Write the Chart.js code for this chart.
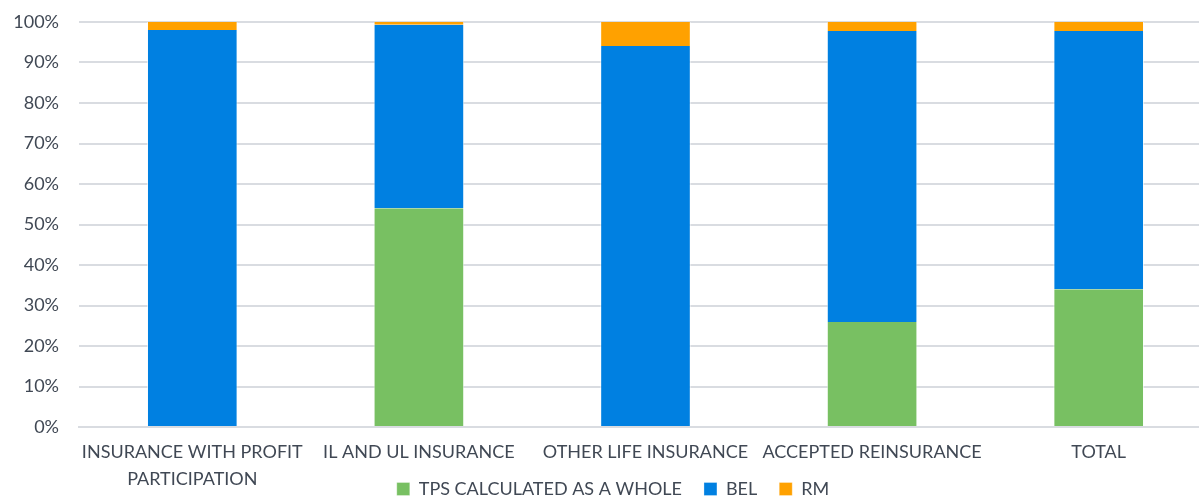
<!DOCTYPE html>
<html>
<head>
<meta charset="utf-8">
<script src="https://cdn.jsdelivr.net/npm/chart.js@4"></script>
<style>
  html, body { margin: 0; padding: 0; background: #fff; overflow: hidden; }
  #wrap { width: 1212px; height: 496px; }
</style>
</head>
<body>
<div id="wrap"><canvas id="tps_graph" width="1212" height="496"></canvas></div>
<script>
const categories = [
    ['INSURANCE WITH PROFIT', 'PARTICIPATION'],
    'IL AND UL INSURANCE',
    'OTHER LIFE INSURANCE',
    'ACCEPTED REINSURANCE',
    'TOTAL'
]
const tpsWhole = [0, 54, 0, 25.9, 34]
const bel = [98, 45.3, 94.1, 71.9, 63.8]
const rm = [2, 0.7, 5.9, 2.2, 2.2]
const yTicks = [0, 10, 20, 30, 40, 50, 60, 70, 80, 90, 100]

const textColor = '#404854'
const fontFamily = 'Lato, "Liberation Sans", sans-serif'

function series(label, values, color) {
    return {
        label: label,
        data: values,
        backgroundColor: color,
        borderColor: 'rgba(255,255,255,0.6)',
        borderWidth: { left: 1, right: 1, top: 0, bottom: 0 },
        barPercentage: 0.4,
        categoryPercentage: 1.0
    }
}

const data = {
    labels: categories,
    datasets: [
        series('TPS CALCULATED AS A WHOLE', tpsWhole, '#78C062'),
        series('BEL', bel, '#0080E1'),
        series('RM', rm, '#FFA100')
    ]
}

const config = {
    type: 'bar',
    data: data,
    options: {
        responsive: false,
        animation: false,
        layout: { padding: { top: 22, left: 14, right: 0, bottom: -12 } },
        plugins: {
            tooltip: { enabled: false },
            legend: {
                position: 'bottom',
                labels: {
                    color: textColor,
                    font: { family: fontFamily, size: 18 },
                    boxWidth: 13,
                    boxHeight: 13,
                    padding: 22
                }
            }
        },
        scales: {
            x: {
                stacked: true,
                grid: { display: false },
                border: { color: '#d9dce1', width: 2 },
                ticks: {
                    color: textColor,
                    font: { family: fontFamily, size: 18, lineHeight: 1.5 },
                    padding: 4,
                    maxRotation: 0,
                    autoSkip: false
                },
                afterFit: function (axis) {
                    // labels overlap the legend row, as in the original
                    axis.height = 31
                    axis._computeLabelArea = function () { return undefined }
                }
            },
            y: {
                stacked: true,
                min: 0,
                max: 100,
                afterBuildTicks: function (axis) {
                    axis.ticks = yTicks.map(v => ({ value: v }))
                },
                grid: { color: '#d9dce1', lineWidth: 2, drawTicks: false },
                border: { display: false },
                ticks: {
                    color: textColor,
                    font: { family: fontFamily, size: 18 },
                    padding: 20,
                    callback: v => v + '%'
                },
                afterFit: function (axis) {
                    axis.width = 65
                    axis.paddingTop = 0
                    axis.paddingBottom = 0
                }
            }
        }
    }
}

let chart = new Chart(document.getElementById('tps_graph'), config)
</script>
</body>
</html>
